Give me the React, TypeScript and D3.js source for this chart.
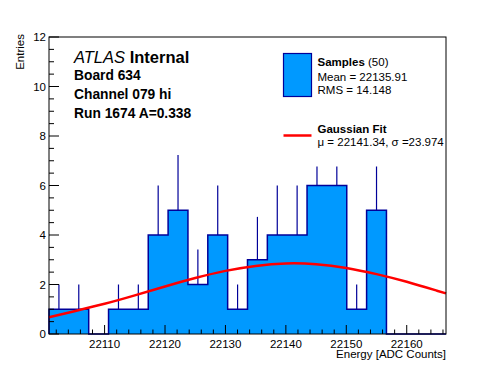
import * as d3 from "d3";
import React from "react";

// histogram range and bin contents (20 bins)
const binLow = 22100.8;
const binHigh = 22166.5;
const counts = [1, 1, 0, 1, 1, 4, 5, 2, 4, 1, 3, 4, 4, 6, 6, 1, 5, 0, 0, 0];

// gaussian fit curve
const fitX = [
	22100.8, 22105, 22110, 22115, 22120, 22125, 22130, 22135, 22140, 22145,
	22150, 22155, 22160, 22165, 22166.5,
];
const fitY = [
	0.68, 0.92, 1.22, 1.56, 1.92, 2.26, 2.55, 2.75, 2.85, 2.82, 2.67, 2.42,
	2.11, 1.75, 1.64,
];

const xTicks = [22110, 22120, 22130, 22140, 22150, 22160];
const yTicks = [0, 2, 4, 6, 8, 10, 12];
const infoLines = ["Board 634", "Channel 079 hi", "Run 1674 A=0.338"];
const sampleStats = ["Mean = 22135.91", "RMS = 14.148"];
const sampleCount = "(50)";
const fitLabel = "μ = 22141.34, σ =23.974";

const W = 496;
const H = 372;
const FONT = "'Liberation Sans', Arial, Helvetica, sans-serif";
const FILL = "#0099ff";
const EDGE = "#000099";

export default function App() {
	const svgRef = React.useRef<SVGSVGElement>(null);

	React.useEffect(() => {
		if (!svgRef.current) return;
		const svg = d3.select(svgRef.current);
		svg.selectAll("*").remove();

		const frame = { left: 49, right: 446, top: 37, bottom: 334 };
		const x = d3
			.scaleLinear()
			.domain([binLow, binHigh])
			.range([frame.left, frame.right]);
		const y = d3.scaleLinear().domain([0, 12]).range([frame.bottom, frame.top]);

		const binW = (binHigh - binLow) / counts.length;
		const bins = counts.map((c, i) => ({
			x0: binLow + i * binW,
			x1: binLow + (i + 1) * binW,
			c,
		}));

		// Step 1: histogram as a step area
		const pts: [number, number][] = [[binLow, 0]];
		bins.forEach((b) => {
			pts.push([b.x0, b.c]);
			pts.push([b.x1, b.c]);
		});
		pts.push([binHigh, 0]);

		const step = d3
			.line<[number, number]>()
			.x((d) => x(d[0]))
			.y((d) => y(d[1]));

		svg
			.append("path")
			.attr("d", step(pts))
			.attr("fill", FILL)
			.attr("stroke", EDGE)
			.attr("stroke-width", 1.5);

		// Step 2: upper error bars
		bins
			.filter((b) => b.c > 0)
			.forEach((b) => {
				const cx = x((b.x0 + b.x1) / 2);
				svg
					.append("line")
					.attr("x1", cx)
					.attr("x2", cx)
					.attr("y1", y(b.c))
					.attr("y2", y(b.c + Math.sqrt(b.c)))
					.attr("stroke", EDGE)
					.attr("stroke-width", 1.2);
			});

		// Step 3: fit curve
		const fitLine = d3
			.line<number>()
			.x((_, i) => x(fitX[i]))
			.y((d) => y(d))
			.curve(d3.curveNatural);
		svg
			.append("path")
			.attr("d", fitLine(fitY))
			.attr("fill", "none")
			.attr("stroke", "#ff0000")
			.attr("stroke-width", 2.5);

		// Step 4: legend (white box hides the error bars behind it)
		const lg = svg.append("g");
		lg.append("rect")
			.attr("x", 276)
			.attr("y", 44)
			.attr("width", 168)
			.attr("height", 122.5)
			.attr("fill", "white");
		lg.append("rect")
			.attr("x", 283.5)
			.attr("y", 53.5)
			.attr("width", 28)
			.attr("height", 43)
			.attr("fill", FILL)
			.attr("stroke", EDGE)
			.attr("stroke-width", 1.2);
		const sTitle = lg
			.append("text")
			.attr("x", 317.5)
			.attr("y", 65.5)
			.attr("font-family", FONT)
			.attr("font-size", 11.5);
		sTitle.append("tspan").attr("font-weight", "bold").text("Samples");
		sTitle.append("tspan").text(" " + sampleCount);
		sampleStats.forEach((s, i) => {
			lg.append("text")
				.attr("x", 317.5)
				.attr("y", 81 + i * 12.5)
				.attr("font-family", FONT)
				.attr("font-size", 11.5)
				.text(s);
		});
		lg.append("line")
			.attr("x1", 283.5)
			.attr("x2", 311.5)
			.attr("y1", 135.5)
			.attr("y2", 135.5)
			.attr("stroke", "#ff0000")
			.attr("stroke-width", 2.5);
		lg.append("text")
			.attr("x", 317.5)
			.attr("y", 133)
			.attr("font-family", FONT)
			.attr("font-size", 11.5)
			.attr("font-weight", "bold")
			.text("Gaussian Fit");
		lg.append("text")
			.attr("x", 317.5)
			.attr("y", 146)
			.attr("font-family", FONT)
			.attr("font-size", 11.5)
			.text(fitLabel);

		// Step 5: frame and axes
		svg
			.append("rect")
			.attr("x", frame.left)
			.attr("y", frame.top)
			.attr("width", frame.right - frame.left)
			.attr("height", frame.bottom - frame.top)
			.attr("fill", "none")
			.attr("stroke", "black")
			.attr("stroke-width", 1);

		d3.range(0, 12.01, 0.5).forEach((v) => {
			const major = v % 2 === 0;
			svg
				.append("line")
				.attr("x1", frame.left)
				.attr("x2", frame.left + (major ? 10 : 5))
				.attr("y1", y(v))
				.attr("y2", y(v))
				.attr("stroke", "black");
		});
		yTicks.forEach((v) => {
			svg
				.append("text")
				.attr("x", 46)
				.attr("y", y(v) + 4)
				.attr("text-anchor", "end")
				.attr("font-family", FONT)
				.attr("font-size", 11.5)
				.text(v);
		});

		d3.range(22102, binHigh, 2).forEach((v) => {
			const major = v % 10 === 0;
			svg
				.append("line")
				.attr("x1", x(v))
				.attr("x2", x(v))
				.attr("y1", frame.bottom)
				.attr("y2", frame.bottom - (major ? 9 : 4.5))
				.attr("stroke", "black");
		});
		xTicks.forEach((v) => {
			svg
				.append("text")
				.attr("x", x(v))
				.attr("y", 347.5)
				.attr("text-anchor", "middle")
				.attr("font-family", FONT)
				.attr("font-size", 11.5)
				.text(v);
		});

		svg
			.append("text")
			.attr("x", frame.right)
			.attr("y", 358)
			.attr("text-anchor", "end")
			.attr("font-family", FONT)
			.attr("font-size", 11.5)
			.text("Energy [ADC Counts]");
		svg
			.append("text")
			.attr("transform", "translate(24,34) rotate(-90)")
			.attr("text-anchor", "end")
			.attr("font-family", FONT)
			.attr("font-size", 11.5)
			.text("Entries");

		// Step 6: ATLAS label and run info
		const atlas = svg
			.append("text")
			.attr("x", 74)
			.attr("y", 62.5)
			.attr("font-family", FONT)
			.attr("font-size", 16.5);
		atlas.append("tspan").attr("font-style", "italic").text("ATLAS");
		atlas.append("tspan").attr("font-weight", "bold").text(" Internal");
		infoLines.forEach((t, i) => {
			svg
				.append("text")
				.attr("x", 74)
				.attr("y", 80 + i * 19.2)
				.attr("font-family", FONT)
				.attr("font-size", 13.8)
				.attr("font-weight", "bold")
				.text(t);
		});
	}, []);

	return (
		<svg
			ref={svgRef}
			width={W}
			height={H}
			style={{ position: "absolute", left: 0, top: 0, background: "white" }}
		/>
	);
}
